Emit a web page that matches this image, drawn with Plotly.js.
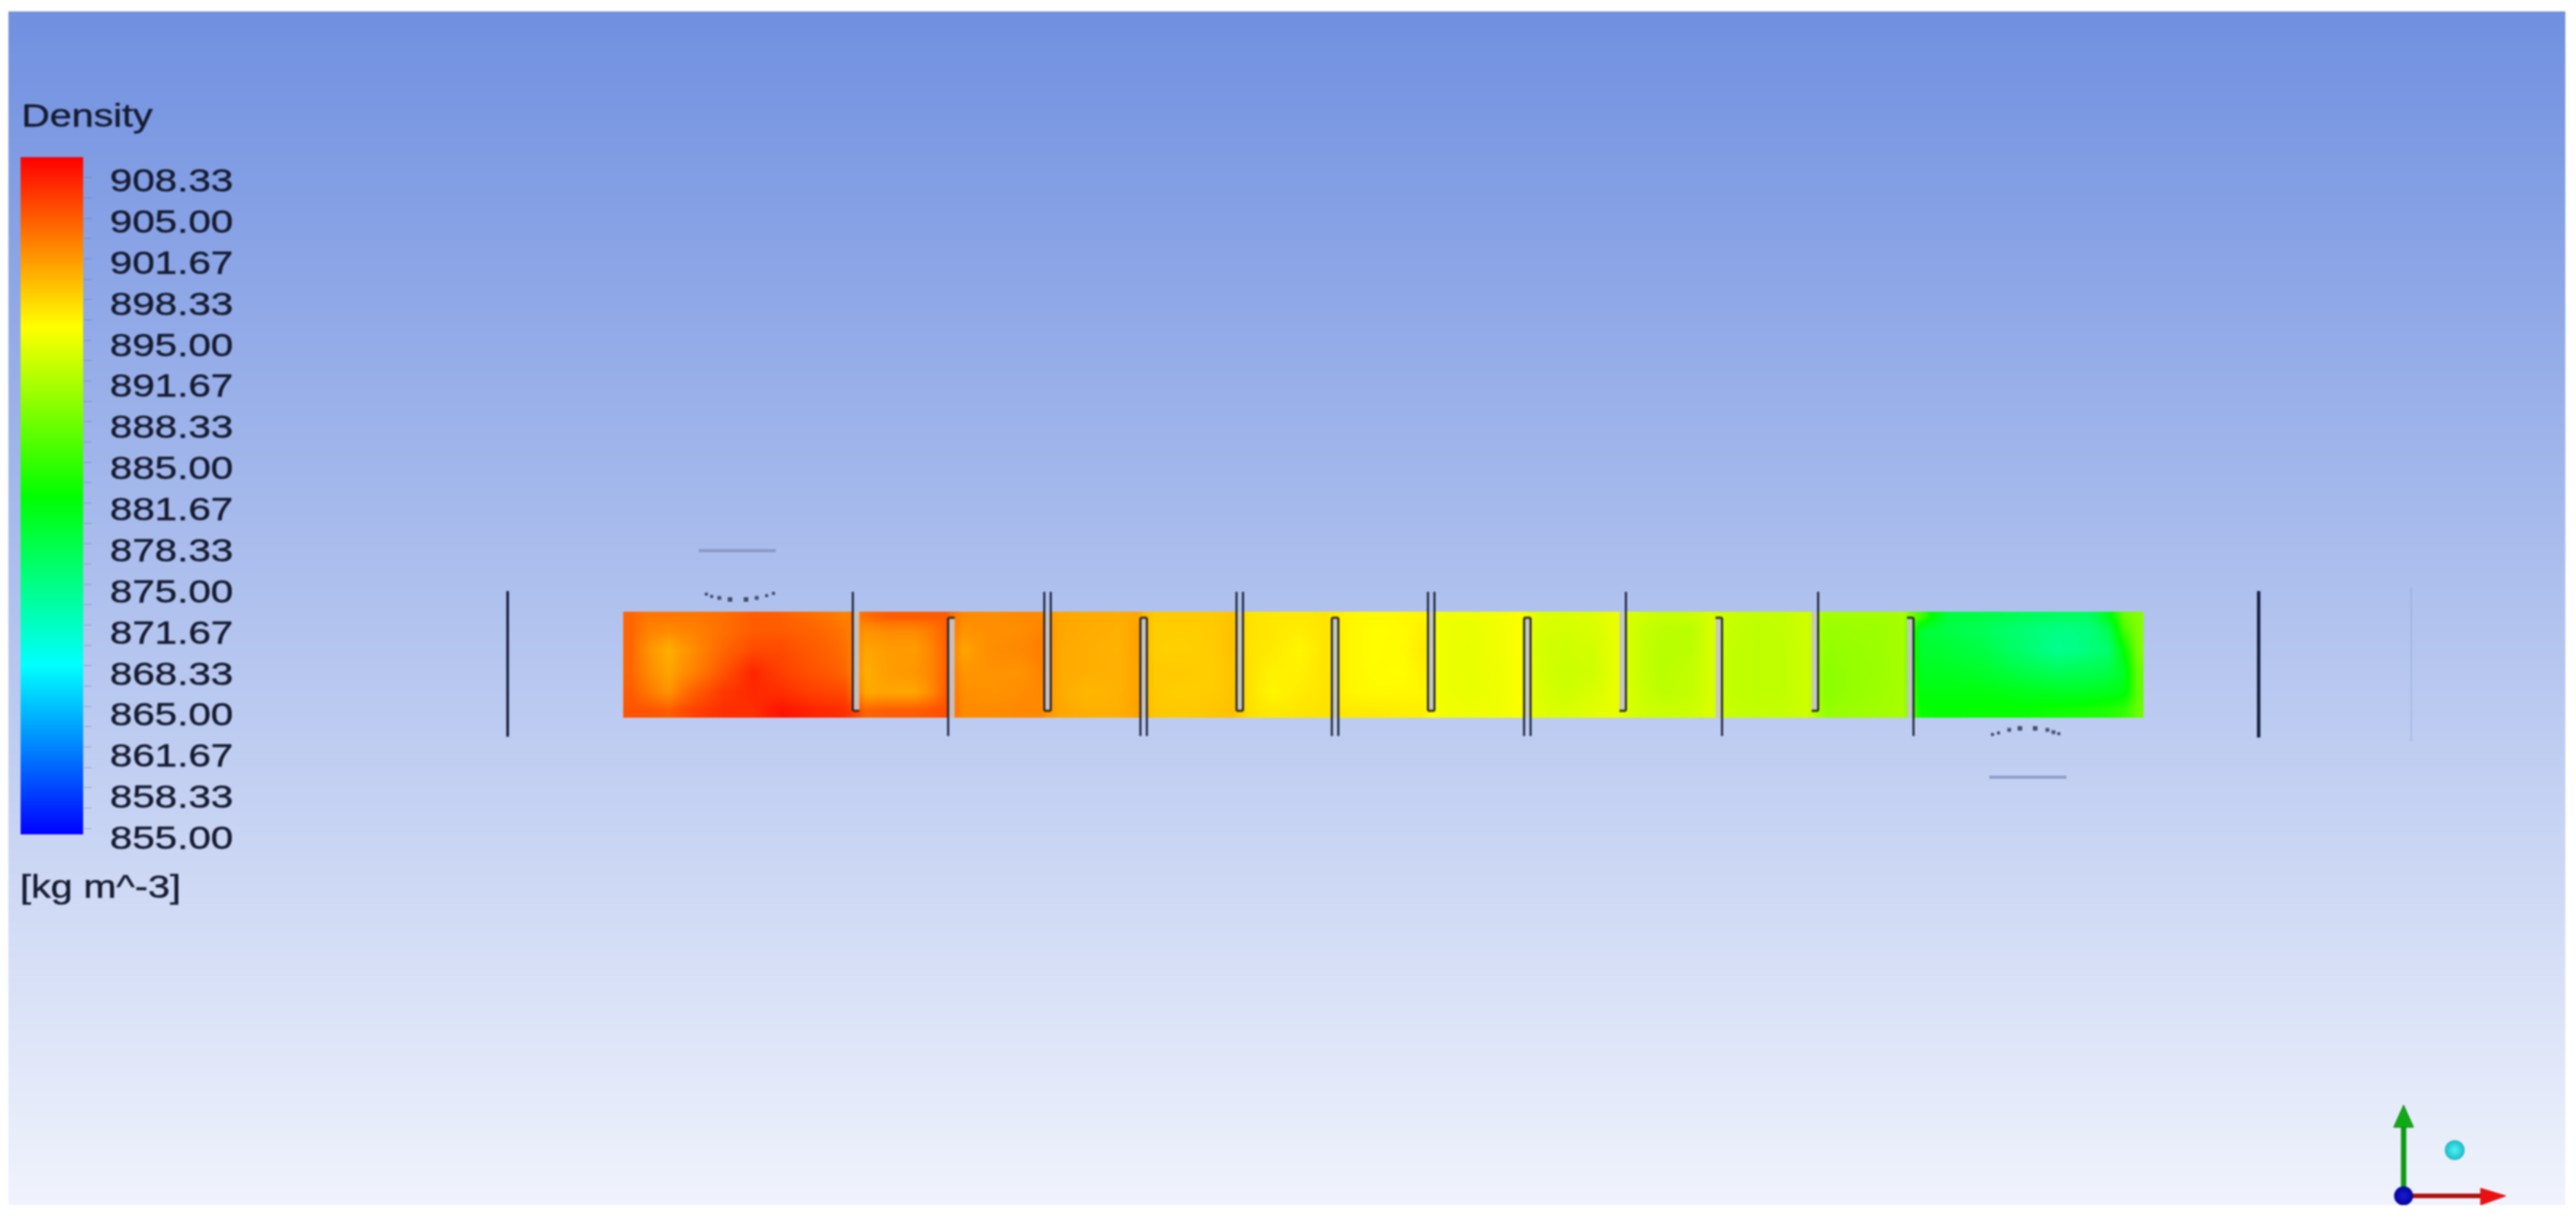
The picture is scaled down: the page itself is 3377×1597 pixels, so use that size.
<!DOCTYPE html>
<html>
<head>
<meta charset="utf-8">
<script src="https://cdn.plot.ly/plotly-3.0.1.min.js"></script>
<style>
html,body{margin:0;padding:0;background:#fff;overflow:hidden}
#chart{width:3377px;height:1597px;filter:blur(0.8px)}
.y3tick text,.annotation-text{stroke:#161b30;stroke-width:0.5px}
</style>
</head>
<body>
<div id="chart"></div>
<script>
// ---------- legend ----------
const legendTickVals = [908.33,905,901.67,898.33,895,891.67,888.33,885,881.67,878.33,875,871.67,868.33,865,861.67,858.33,855];
const legendTickText = ["908.33","905.00","901.67","898.33","895.00","891.67","888.33","885.00","881.67","878.33","875.00","871.67","868.33","865.00","861.67","858.33","855.00"];
const legendMinorTicks = [855,856.67,858.33,860,861.67,863.33,865,866.67,868.33,870,871.67,873.33,875,876.67,878.33,880,881.67,883.33,885,886.67,888.33,890,891.67,893.33,895,896.67,898.33,900,901.67,903.33,905,906.67,908.33];
const legendLevels = [854.5,860,865,870,875,880,885,890,895,900,905,910];
const zMin = 854.5, zMax = 910;
const rainbow = [[0,'rgb(0,0,255)'],[0.25,'rgb(0,255,255)'],[0.5,'rgb(0,255,0)'],[0.75,'rgb(255,255,0)'],[1,'rgb(255,0,0)']];

// ---------- density field: one row per x station, values at the rowY heights ----------
const rowEdges = [802,816,838,866,894,920,941];
const xA = [823,850,873,910,950,985,1025,1065,1116];
const zA = [[904.5,904.5,904.5,904.5,905,905.5],[903.5,903,902,902.5,903.5,905.5],[903.5,902.5,900.5,901,902,905],[903.5,903,902.5,903,905,906.5],[904,904,904.5,905.5,907,907.5],[905,905,906,908,907.8,907.5],[904.8,905,906,906.5,907.5,909],[904,904.6,905,905.5,906.5,908],[903,903.6,904,904.5,906,907.5]];
const xB = [1129,1165,1200,1225,1241];
const zB = [[904,902,901,900.5,900.8,904.5],[905,902.5,901.5,901.5,901,905],[905,902.5,901.5,901.8,901,905],[905,903.5,903,903,902.8,905.5],[905,905,905,905,905.2,905.8]];
const xC = [1254,1300,1340,1367];
const zC = [[902.5,902,901,901.8,902.3,902.5],[902.3,902.2,902.3,902,902,902.5],[902.5,902.3,902.6,902,902.3,902.6],[902.5,903,903.2,903,902.6,902.6]];
const xD = [1380,1430,1470,1493];
const zD = [[901,901,900.8,900.8,900.8,901],[900.7,900.6,900.5,900.5,900,900.5],[900.6,900.4,900.3,900.4,900.4,900.5],[901,901.4,901.3,901.2,901.2,901.3]];
const xE = [1505,1550,1590,1619];
const zE = [[899,898.8,898.8,899,899,899.2],[899,898.8,898.7,899,898.8,899],[899,898.9,898.9,898.8,898.9,899.2],[899.4,899.6,899.6,899.4,899.5,899.6]];
const xF = [1631,1670,1700,1744];
const zF = [[897.6,897.7,897.7,897.7,897.7,897.8],[897.4,897.4,897.3,896.9,896.6,897.3],[897.3,897.1,896.6,896.9,897.2,897.5],[897.6,897.6,897.6,897.6,897.6,897.7]];
const xG = [1757,1800,1840,1870];
const zG = [[896.7,896.7,896.7,896.7,896.7,897.3],[896.4,896.2,896.2,896.3,896.4,897.2],[896.5,896.3,896.4,896.2,896.5,897],[896.7,897,897.3,897,896.7,896.9]];
const xH = [1882,1925,1965,1996];
const zH = [[895.3,895.2,895.2,895.2,895.2,895.4],[895.2,895,894.9,894.9,895,895.2],[895.5,895.3,895.3,895.2,895.2,895.3],[896,896,896,896,896,896]];
const xI = [2009,2050,2090,2121];
const zI = [[894.3,894,893.9,894,894.2,894.4],[894,893.8,893.5,893.3,893.5,894],[894.3,894,893.7,893.5,894,894.5],[895,895,895,895,895,895]];
const xJ = [2134,2180,2215,2247];
const zJ = [[893.8,893.5,893.5,893.5,893.6,893.8],[893,892.5,892.3,892.3,892.5,893.2],[893,892.3,892.4,892.8,892.8,893.3],[894,894,894,894,894,894.2]];
const xK = [2260,2300,2340,2373];
const zK = [[893.2,893,892.8,892.8,892.8,893],[892.8,892.6,892.6,892.6,892.6,892.8],[892.9,892.8,892.7,892.7,892.7,892.9],[893.6,893.6,893.6,893.6,893.5,893.5]];
const xL = [2386,2430,2470,2498];
const zL = [[891,890.5,890.3,889.8,889.8,890.3],[891,890.7,890.5,890.4,890.4,890.7],[891,890.8,890.8,890.7,890.9,891],[891.4,891.4,891.4,891.4,891.4,891.4]];
const xM = [2511,2550,2600,2650,2700,2740,2765,2785,2803];
const zM = [[886,879.5,879.8,880.5,881.5,882.5],[879,878.5,879.5,880.5,881.5,882.3],[878.5,877.5,878.5,880,881.5,882.5],[877.5,876,876.5,878.5,881,882.5],[877,875,874.5,877.5,880.5,883],[877,875.5,875.5,878,880.5,883.5],[881,878,876.5,878.5,881,884],[888,886,882.5,880.5,881.5,885],[889.5,889.3,889,888,887.5,888]];
const fieldLeft = 817, fieldRight = 2810;

// ---------- baffles and other geometry ----------
const topBaffles = [1118,1369,1621,1872,2123,2375];
const bottomBaffles = [1243,1495,1746,1998,2249,2500];
const leftDark = [1,1,1,1,0,0];
const rightDark = [0,1,1,1,1,1];
const plates = [665.5,2961];
const faintPlate = [3161];
const nozzleBarsX = [916,1017,null,2608,2709];
const nozzleBarsY = [722,722,null,1019,1019];
const arcX = [926,933,943,957,978,992,1005,1014,2612,2620,2634,2648,2668,2684,2692,2699];
const arcY = [779,782,784,786,786,784,781,778,963,961,957,955,955,957,960,962];
const arcSize = [4,4,5,6,6,5,4,4,4,4,5,6,6,5,5,4];
const bgTopColor = 'rgb(112,144,224)', bgBottomColor = 'rgb(240,243,252)';

// ---------- build ----------
const W = 3377, H = 1597;
const IMG = {l:11, r:3363, t:15, b:1580};
const px = v => v / W, py = v => 1 - v / H;
const fieldX = [].concat(xA,xB,xC,xD,xE,xF,xG,xH,xI,xJ,xK,xL,xM);
const fieldCols = [].concat(zA,zB,zC,zD,zE,zF,zG,zH,zI,zJ,zK,zL,zM);
const xEdges = [fieldLeft];
for (let i = 0; i < fieldX.length - 1; i++) xEdges.push((fieldX[i] + fieldX[i+1]) / 2);
xEdges.push(fieldRight);
const fieldZ = rowEdges.slice(0,-1).map((_, r) => fieldCols.map(c => c[r]));

const bw = 8.5, topEnd = 932, topStart = 776, botStart = 810, botEnd = 965, fTop = 802, fBot = 941;
let fillX = [], fillY = [], lineX = [], lineY = [], capX = [], capY = [];
topBaffles.forEach((x, i) => {
  fillX.push(x,x+bw,x+bw,x,x,null); fillY.push(fTop,fTop,topEnd,topEnd,fTop,null);
  if (leftDark[i]) { lineX.push(x,x,null); lineY.push(topStart,topEnd,null); }
  if (rightDark[i]) { lineX.push(x+bw,x+bw,null); lineY.push(topStart,topEnd,null); }
  capX.push(x,x+bw,null); capY.push(topEnd,topEnd,null);
});
bottomBaffles.forEach((x, i) => {
  fillX.push(x,x+bw,x+bw,x,x,null); fillY.push(botStart,botStart,fBot,fBot,botStart,null);
  if (leftDark[i]) { lineX.push(x,x,null); lineY.push(botStart,botEnd,null); }
  if (rightDark[i]) { lineX.push(x+bw,x+bw,null); lineY.push(botStart,botEnd,null); }
  capX.push(x,x+bw,null); capY.push(botStart,botStart,null);
});

const main = {xaxis:'x', yaxis:'y', hoverinfo:'skip'};
const traces = [
  Object.assign({type:'heatmap', x:[0,W], y:[IMG.t,IMG.b], z:[[0,0],[1,1]], zmin:0, zmax:1, zsmooth:'best', showscale:false,
    colorscale:[[0,bgTopColor],[1,bgBottomColor]]}, main),
  Object.assign({type:'heatmap', x:xEdges, y:rowEdges, z:fieldZ, zmin:zMin, zmax:zMax, zsmooth:'best', showscale:false, colorscale:rainbow}, main),
  Object.assign({type:'scatter', mode:'lines', x:fillX, y:fillY, fill:'toself', fillcolor:'rgba(198,198,200,0.92)', line:{width:0}}, main),
  Object.assign({type:'scatter', mode:'lines', x:lineX, y:lineY, line:{color:'rgba(16,20,42,0.95)', width:2.6}}, main),
  Object.assign({type:'scatter', mode:'lines', x:capX, y:capY, line:{color:'rgba(40,36,30,0.9)', width:3}}, main),
  Object.assign({type:'scatter', mode:'lines', x:[plates[0],plates[0]], y:[775,966], line:{color:'#141c3a', width:3.4}}, main),
  Object.assign({type:'scatter', mode:'lines', x:[plates[1],plates[1]], y:[775,967], line:{color:'#141c3a', width:4.4}}, main),
  Object.assign({type:'scatter', mode:'lines', x:[faintPlate[0],faintPlate[0]], y:[770,972], line:{color:'rgba(130,150,205,0.45)', width:1.5}}, main),
  Object.assign({type:'scatter', mode:'lines', x:nozzleBarsX, y:nozzleBarsY, line:{color:'rgba(125,140,185,0.75)', width:4}}, main),
  Object.assign({type:'scatter', mode:'markers', x:arcX, y:arcY, marker:{symbol:'square', size:arcSize, color:'rgb(20,26,60)', line:{width:0}}}, main),
  // triad
  Object.assign({type:'scatter', mode:'lines', x:[3151,3151], y:[1568,1478], line:{color:'#0c9a12', width:7}}, main),
  Object.assign({type:'scatter', mode:'lines', x:[3138,3151,3164,3138], y:[1478,1449,1478,1478], fill:'toself', fillcolor:'#10ab14', line:{color:'#0b7e10', width:1}}, main),
  Object.assign({type:'scatter', mode:'lines', x:[3151,3252], y:[1568,1568], line:{color:'#b01010', width:6}}, main),
  Object.assign({type:'scatter', mode:'lines', x:[3252,3285,3252,3252], y:[1558,1568,1580,1558], fill:'toself', fillcolor:'#ee1010', line:{color:'#d01010', width:1}}, main),
  Object.assign({type:'scatter', mode:'markers', x:[3151], y:[1568], marker:{size:25, color:'#04049a', gradient:{type:'radial', color:'#1a1ad8'}}}, main),
  Object.assign({type:'scatter', mode:'markers', x:[3218], y:[1508], marker:{size:26, color:'#1cb8c4', gradient:{type:'radial', color:'#4ff6f8'}}}, main),
  // legend bar
  {type:'heatmap', xaxis:'x2', yaxis:'y2', x:[0,1], y:legendLevels, z:legendLevels.map(v=>[v,v]), zmin:zMin, zmax:zMax, zsmooth:'best', showscale:false, colorscale:rainbow, hoverinfo:'skip'},
  {type:'scatter', xaxis:'x3', yaxis:'y3', x:[0], y:[880], mode:'markers', marker:{opacity:0}, hoverinfo:'skip'}
];

const labelTop = 190, labelBot = 1110;
const lab = p => 855 + (1098 - p) / 16.163;
const ink = '#161b30';
const fontFam = '"Liberation Sans", Arial, sans-serif';
const layout = {
  width:W, height:H, margin:{l:0,r:0,t:0,b:0,pad:0}, paper_bgcolor:'#fff', plot_bgcolor:'rgba(0,0,0,0)', showlegend:false, hovermode:false,
  xaxis:{domain:[px(IMG.l),px(IMG.r)], range:[IMG.l,IMG.r], visible:false, fixedrange:true},
  yaxis:{domain:[py(IMG.b),py(IMG.t)], range:[IMG.b,IMG.t], visible:false, fixedrange:true},
  xaxis2:{domain:[px(27),px(109)], range:[0,1], visible:false, anchor:'y2', fixedrange:true},
  yaxis2:{domain:[py(1094),py(206)], range:[zMin,zMax], anchor:'x2', side:'right', showgrid:false, zeroline:false,
    tickmode:'array', tickvals:legendMinorTicks, ticktext:legendMinorTicks.map(()=>''), ticks:'outside', ticklen:10, tickwidth:1, tickcolor:'rgba(80,95,150,0.4)', fixedrange:true},
  xaxis3:{domain:[px(100),px(143)], range:[0,1], visible:false, anchor:'y3', fixedrange:true},
  yaxis3:{domain:[py(labelBot),py(labelTop)], range:[lab(labelBot),lab(labelTop)], anchor:'x3', side:'right', showgrid:false, zeroline:false, showline:false, ticks:'',
    tickmode:'array', tickvals:legendTickVals, ticktext:legendTickText, tickfont:{family:fontFam, size:43, color:ink}, fixedrange:true},
  annotations:[
    {xref:'paper', yref:'paper', x:px(42), y:py(151), xanchor:'left', yanchor:'middle', text:'Density', showarrow:false, font:{family:fontFam, size:42, color:ink}},
    {xref:'paper', yref:'paper', x:px(44), y:py(1162), xanchor:'left', yanchor:'middle', text:'[kg m^-3]', showarrow:false, font:{family:fontFam, size:42, color:ink}}
  ]
};

Plotly.newPlot('chart', traces, layout, {staticPlot:true, displayModeBar:false}).then(gd => {
  // the picture was widened: stretch the glyphs horizontally, keeping them as real text
  const widen = 1.23;
  gd.querySelectorAll('.y3tick text, .annotation-text').forEach(t => {
    const w = t.getComputedTextLength();
    t.setAttribute('textLength', (w * widen).toFixed(1));
    t.setAttribute('lengthAdjust', 'spacingAndGlyphs');
  });
});
</script>
</body>
</html>
